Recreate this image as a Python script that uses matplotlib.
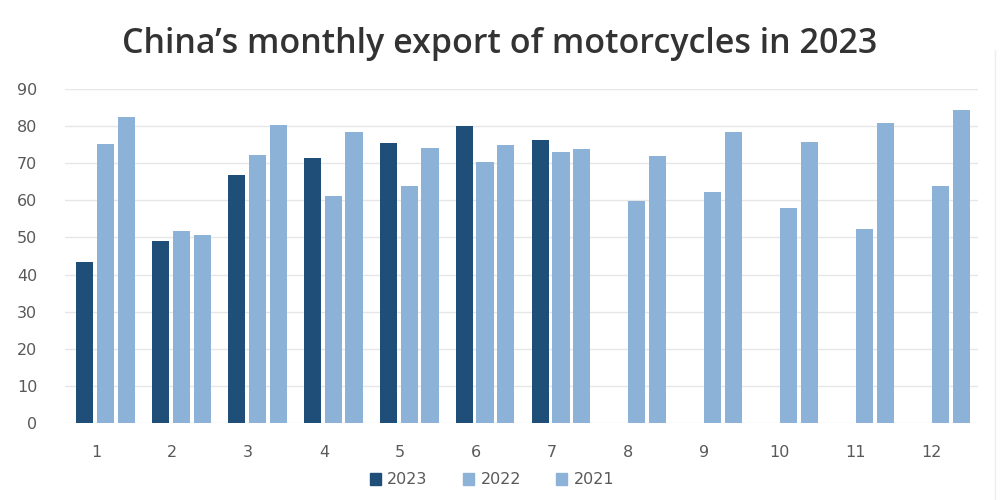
import numpy as np
import matplotlib.pyplot as plt
from matplotlib.patches import Patch

# monthly exports (10k units)
months = ['1', '2', '3', '4', '5', '6', '7', '8', '9', '10', '11', '12']
exp_2023 = [43.4, 49.0, 66.8, 71.4, 75.5, 80.0, 76.3, np.nan, np.nan, np.nan, np.nan, np.nan]
exp_2022 = [75.2, 51.7, 72.2, 61.2, 63.9, 70.3, 73.0, 59.8, 62.2, 57.9, 52.3, 63.9]
exp_2021 = [82.5, 50.7, 80.3, 78.4, 74.1, 74.9, 73.8, 71.9, 78.4, 75.7, 80.8, 84.3]
years = ['2023', '2022', '2021']
colors = ['#1f4e79', '#8cb2d8', '#8cb2d8']

fig = plt.figure(figsize=(10, 5), dpi=100)
ax = fig.add_axes([0.065, 0.154, 0.913, 0.668])

x = np.arange(len(months))
w = 0.225
step = 0.275
for i, (vals, c) in enumerate(zip([exp_2023, exp_2022, exp_2021], colors)):
    ax.bar(x + (i - 1) * step, vals, width=w, color=c, zorder=3)

ax.set_xlim(-0.53, 11.49)
ax.set_ylim(0, 90)
ax.set_yticks(range(0, 91, 10))
ax.set_xticks(x - 0.12)
ax.set_xticklabels(months)
ax.grid(axis='y', color='#e6e6e6', linewidth=1, zorder=0)
for s in ax.spines.values():
    s.set_visible(False)
ax.tick_params(axis='both', length=0, labelsize=11.5, labelcolor='#595959')
ax.tick_params(axis='y', pad=20)
ax.tick_params(axis='x', pad=16)

handles = [Patch(color=c) for c in colors]
fig.legend(handles, years, loc='center', bbox_to_anchor=(0.492, 0.04), ncol=3,
           frameon=False, fontsize=11.5, labelcolor='#595959',
           handlelength=0.7, handleheight=0.7, columnspacing=2.2, handletextpad=0.4)

fig.text(0.5, 0.912, 'China\u2019s monthly export of motorcycles in 2023',
         ha='center', va='center', fontsize=24.5, color='#333333',
         family='Open Sans', fontweight='semibold', fontstretch='condensed')

# faint frame line on the right edge
fig.add_artist(plt.Line2D([0.995, 0.995], [0.0, 0.9], color='#eeeeee', linewidth=1))

fig.savefig('out.png', dpi=100, facecolor='white')
